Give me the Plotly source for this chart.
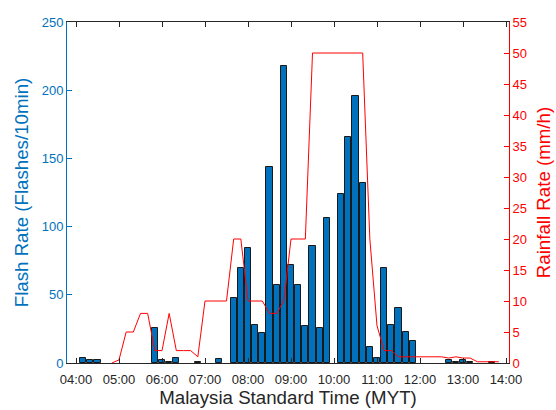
import plotly.graph_objects as go

DAY = "2020-01-01 "

bar_times = ["04:10", "04:20", "04:30", "05:50", "06:00", "06:10", "06:20", "06:50",
             "07:20", "07:40", "07:50", "08:00", "08:10", "08:20", "08:30", "08:40",
             "08:50", "09:00", "09:10", "09:20", "09:30", "09:40", "09:50", "10:10",
             "10:20", "10:30", "10:40", "10:50", "11:00", "11:10", "11:20", "11:30",
             "11:40", "11:50", "12:40", "12:50", "13:00", "13:10", "13:40"]
flash_rate = [4, 2, 2, 26, 2, 1, 4, 1,
              3, 48, 70, 84, 28, 22, 144, 57,
              218, 72, 57, 27, 86, 26, 106, 124,
              166, 196, 132, 12, 4, 70, 28, 40,
              23, 16, 2, 1, 2, 1, 1]

rain_times = ["04:50", "05:00", "05:10", "05:20", "05:30", "05:40", "05:50", "06:00",
              "06:10", "06:20", "06:30", "06:40", "06:50", "07:00", "07:10", "07:20",
              "07:30", "07:40", "07:50", "08:00", "08:10", "08:20", "08:30", "08:40",
              "08:50", "09:00", "09:10", "09:20", "09:30", "09:40", "09:50", "10:00",
              "10:10", "10:20", "10:30", "10:40", "10:50", "11:00", "11:10", "11:20",
              "11:30", "11:40", "11:50", "12:00", "12:10", "12:20", "12:30", "12:40",
              "12:50", "13:00", "13:10", "13:20", "13:30", "13:40", "13:50"]
rain_rate = [0, 0.5, 5, 5, 8, 8, 2, 2,
             8, 2, 2, 2, 1, 10, 10, 10,
             10, 20, 20, 10, 10, 10, 8, 8,
             10, 20, 20, 20, 50, 50, 50, 50,
             50, 50, 50, 50, 20, 6, 2, 2,
             1, 1, 1, 1, 1, 1, 1, 0.8,
             1, 0.8, 0.8, 0.2, 0.2, 0.3, 0.2]

x_tick_labels = ["04:00", "05:00", "06:00", "07:00", "08:00", "09:00",
                 "10:00", "11:00", "12:00", "13:00", "14:00"]

BLUE = "#0072BD"
RED = "#FF0000"
DARK = "#262626"
FONT = "Liberation Sans, Arial, sans-serif"

fig = go.Figure()
fig.add_trace(go.Bar(
    x=[DAY + t for t in bar_times], y=flash_rate,
    width=[520000] * len(bar_times),
    marker=dict(color=BLUE, line=dict(color="#1a1a1a", width=1)),
    yaxis="y", showlegend=False,
))
fig.add_trace(go.Scatter(
    x=[DAY + t for t in rain_times], y=rain_rate,
    mode="lines", line=dict(color=RED, width=1),
    yaxis="y2", showlegend=False,
))

fig.update_layout(
    width=556, height=410,
    margin=dict(l=67, r=47, t=22, b=47),
    paper_bgcolor="white", plot_bgcolor="white",
    font=dict(family=FONT, size=13, color=DARK),
    bargap=0,
    xaxis=dict(
        type="date", automargin=False,
        range=[DAY + "03:47:26", DAY + "14:04:10"],
        tickvals=[DAY + t for t in x_tick_labels],
        ticktext=x_tick_labels,
        ticks="inside", ticklen=5, tickcolor=DARK,
        ticklabelstandoff=4,
        showline=True, linecolor=DARK, linewidth=1, mirror="ticks",
        showgrid=False, zeroline=False,
        tickfont=dict(size=13, color=DARK),
        title=dict(text="Malaysia Standard Time (MYT)", font=dict(size=18.7, color=DARK), standoff=4),
    ),
    yaxis=dict(
        automargin=False,
        range=[0, 250], dtick=50,
        ticks="inside", ticklen=5, tickcolor=BLUE,
        showline=True, linecolor=BLUE, linewidth=1,
        showgrid=False, zeroline=False,
        tickfont=dict(size=13, color=BLUE),
        title=dict(text="Flash Rate (Flashes/10min)", font=dict(size=18.7, color=BLUE), standoff=8),
    ),
    yaxis2=dict(
        overlaying="y", side="right", automargin=False,
        range=[0, 55], dtick=5,
        ticks="inside", ticklen=5, tickcolor=RED,
        showline=True, linecolor=RED, linewidth=1,
        showgrid=False, zeroline=False,
        tickfont=dict(size=13, color=RED),
        title=dict(text="Rainfall Rate (mm/h)", font=dict(size=18.7, color=RED), standoff=10),
    ),
)

fig.write_html("out.html")
